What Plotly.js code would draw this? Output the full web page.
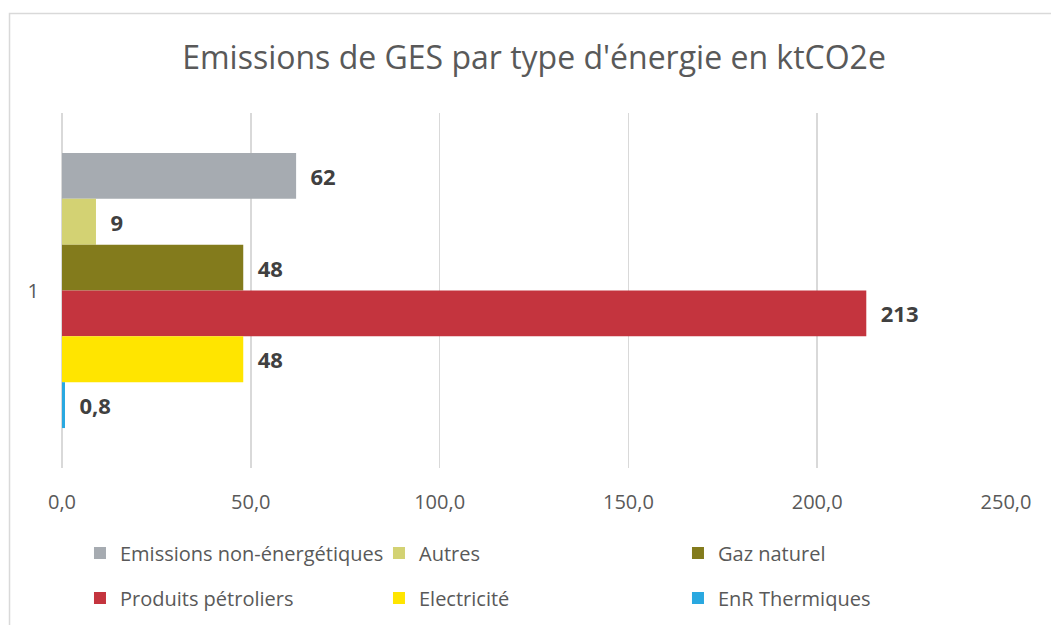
<!DOCTYPE html>
<html>
<head>
<meta charset="utf-8">
<script src="https://cdn.plot.ly/plotly-3.0.1.min.js"></script>
<style>
html,body{margin:0;padding:0;background:#fff;}
#chart{width:1051px;height:625px;}
</style>
</head>
<body>
<div id="chart"></div>
<script>
const categories = ["1"];
const seriesNames = ["Emissions non-énergétiques", "Autres", "Gaz naturel", "Produits pétroliers", "Electricité", "EnR Thermiques"];
const seriesValues = [62, 9, 48, 213, 48, 0.8];
const seriesColors = ["#A6ABB1", "#D3D273", "#837B1C", "#C4343E", "#FFE500", "#29A8E0"];
const xTickValues = [0, 50, 100, 150, 200, 250];

const traces = seriesNames.map((name, i) => ({
  type: "bar",
  orientation: "h",
  name: name,
  y: categories,
  x: [seriesValues[i]],
  marker: {color: seriesColors[i]},
  texttemplate: "\u00a0\u00a0%{x:.1~f}",
  textposition: "outside",
  constraintext: "none",
  cliponaxis: false,
  textfont: {family: "Open Sans, sans-serif", size: 22, color: "#404040", weight: "bold"},
  legend: i < 3 ? "legend" : "legend2",
  hoverinfo: "x+name"
}));

const legendFont = {family: "Open Sans, sans-serif", size: 20, color: "#595959"};

const layout = {
  width: 1051,
  height: 625,
  margin: {l: 62, r: 45, t: 113, b: 157, autoexpand: false},
  paper_bgcolor: "#ffffff",
  plot_bgcolor: "#ffffff",
  separators: ", ",
  barmode: "group",
  bargap: 0.225,
  bargroupgap: 0,
  showlegend: true,
  title: {
    text: "Emissions de GES par type d'énergie en ktCO2e",
    font: {family: "Open Sans, sans-serif", size: 32, color: "#595959"},
    xref: "paper", x: 0.5, xanchor: "center",
    yref: "container", y: 0.907, yanchor: "middle"
  },
  xaxis: {
    range: [0, 250],
    tickvals: xTickValues,
    tickformat: ".1f",
    showgrid: true,
    gridcolor: "#d9d9d9",
    gridwidth: 1.5,
    zeroline: true,
    zerolinecolor: "#d9d9d9",
    zerolinewidth: 1.5,
    showline: false,
    ticks: "outside",
    ticklen: 16,
    tickcolor: "rgba(0,0,0,0)",
    tickfont: {family: "Open Sans, sans-serif", size: 20, color: "#595959"},
    automargin: false,
    fixedrange: true
  },
  yaxis: {
    type: "category",
    autorange: "reversed",
    showgrid: false,
    zeroline: false,
    showline: false,
    ticks: "outside",
    ticklen: 18,
    tickcolor: "rgba(0,0,0,0)",
    tickfont: {family: "Open Sans, sans-serif", size: 20, color: "#595959"},
    automargin: false,
    fixedrange: true
  },
  legend: {
    orientation: "h",
    xref: "container", yref: "container",
    x: 0.0761, xanchor: "left",
    y: 0.1152, yanchor: "middle",
    entrywidth: 254,
    entrywidthmode: "pixels",
    font: legendFont,
    bgcolor: "rgba(0,0,0,0)",
    traceorder: "normal"
  },
  legend2: {
    orientation: "h",
    xref: "container", yref: "container",
    x: 0.0761, xanchor: "left",
    y: 0.0432, yanchor: "middle",
    entrywidth: 254,
    entrywidthmode: "pixels",
    font: legendFont,
    bgcolor: "rgba(0,0,0,0)",
    traceorder: "normal"
  },
  shapes: [{
    type: "path",
    xref: "paper", yref: "paper",
    path: "M -0.0556 -0.46 L -0.0556 1.2803 L 1.06 1.2803",
    line: {color: "#d9d9d9", width: 1.5}
  }]
};

Plotly.newPlot("chart", traces, layout, {displayModeBar: false, staticPlot: true});
</script>
</body>
</html>
